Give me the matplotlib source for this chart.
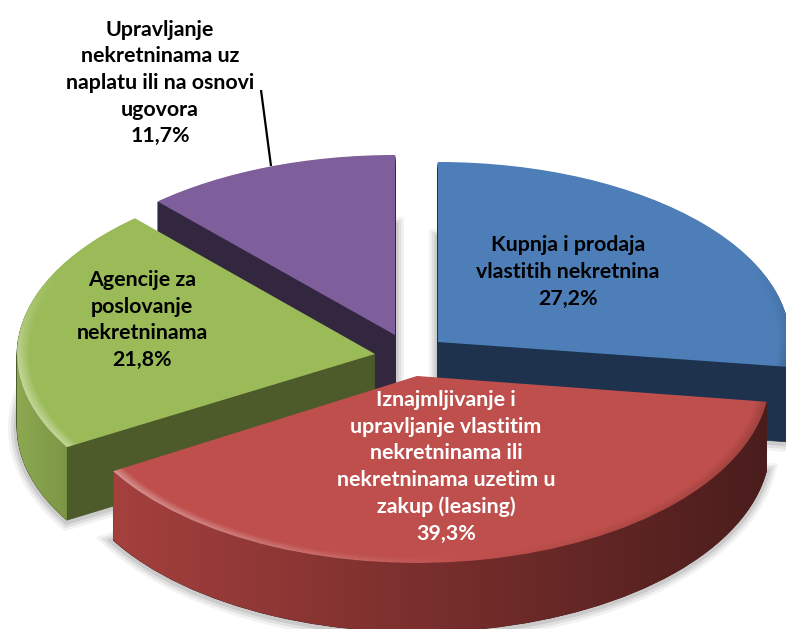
import numpy as np
import matplotlib
matplotlib.use("Agg")
import matplotlib.pyplot as plt
from matplotlib.patches import Wedge
from matplotlib.path import Path
from matplotlib.transforms import Affine2D

categories = ["Kupnja i prodaja\nvlastitih nekretnina",
              "Iznajmljivanje i\nupravljanje vlastitim\nnekretninama ili\nnekretninama uzetim u\nzakup (leasing)",
              "Agencije za\nposlovanje\nnekretninama",
              "Upravljanje\nnekretninama uz\nnaplatu ili na osnovi\nugovora"]
values = [27.2, 39.3, 21.8, 11.7]

top_colors = ["#4d7eb8", "#be4f4c", "#9bbb59", "#7e5f9b"]
face_colors = ["#1e324d", "#4a1d1c", "#4d5a29", "#32273f"]
rim_left = ["#1e324d", "#a5403d", "#8ca850", "#32273f"]
rim_right = ["#1e324d", "#4a1d1c", "#7c9646", "#32273f"]
text_colors = ["black", "white", "black", "black"]

# pixel geometry of each exploded slice: centre x, centre y, radius x, radius y, depth
geom = [(438, 342, 352, 180, 75),
        (417, 376, 353, 187, 69),
        (375, 354, 358, 183, 73),
        (395, 335, 354, 180, 70)]
# label block centres in pixels
label_pos = [(568, 272), (446, 467), (142, 320), (160, 83)]
draw_order = [3, 0, 2, 1]

W, H = 786, 629
fig = plt.figure(figsize=(W / 100, H / 100), dpi=100, facecolor="white")
ax = fig.add_axes([0, 0, 1, 1])
wedges, _ = ax.pie(values, startangle=90, counterclock=False, colors=top_colors)
ax.set_aspect("auto")
ax.set_xlim(0, W)
ax.set_ylim(H, 0)
ax.axis("off")

yy, xx = np.mgrid[0.5:H, 0.5:W]


def hex_rgb(c):
    return np.array(matplotlib.colors.to_rgb(c))


for i in draw_order:
    w = wedges[i]
    t1, t2 = w.theta1, w.theta2
    cx, cy, rx, ry, depth = geom[i]
    base = 10 * (draw_order.index(i) + 1)

    def tf(shift=0):
        return Affine2D().scale(rx, -ry).translate(cx, cy + shift)

    # soft shadow
    for lw, a in ((13, 0.05), (9, 0.07), (5, 0.09)):
        s = Wedge((0, 0), 1, t1, t2, facecolor="none", edgecolor=(0, 0, 0, a), lw=lw,
                  transform=tf(depth + 1) + ax.transData, zorder=base)
        ax.add_patch(s)

    # extruded body
    for d in range(depth, 0, -1):
        b = Wedge((0, 0), 1, t1, t2, facecolor=face_colors[i], edgecolor=face_colors[i], lw=0.5,
                  transform=tf(d) + ax.transData, zorder=base + 1)
        ax.add_patch(b)

    # curved outer rim with a horizontal gradient
    ang = np.radians(np.linspace(t1, t2, 400))
    ang = ang[np.sin(ang) <= 0.001]
    if len(ang) > 1:
        px = cx + rx * np.cos(ang)
        py = cy - ry * np.sin(ang)
        verts = np.r_[np.c_[px, py], np.c_[px, py + depth][::-1], [[px[0], py[0]]]]
        rim_path = Path(verts)
        frac = np.clip((xx - px.min()) / max(px.max() - px.min(), 1), 0, 1)[..., None]
        img = hex_rgb(rim_left[i]) * (1 - frac) + hex_rgb(rim_right[i]) * frac
        im = ax.imshow(img, extent=(0, W, H, 0), aspect="auto", zorder=base + 2, interpolation="bilinear")
        im.set_clip_path(rim_path, ax.transData)

    # top surface
    w.set_transform(tf() + ax.transData)
    w.set_zorder(base + 3)
    w.set_edgecolor("none")

    # bevel on the outer edge of the top surface, only on the lower part of the rim
    rho = np.hypot((xx - cx) / rx, (yy - cy) / ry)
    phi = np.arctan2(-(yy - cy) / ry, (xx - cx) / rx)
    band = np.clip((rho - 0.965) / 0.03, 0, 1) * np.clip((0.45 - np.sin(phi)) / 0.5, 0, 1)
    lit = np.clip(-np.cos(phi) + 0.15, 0, 1) * band
    dark = np.clip(np.cos(phi) - 0.15, 0, 1) * band
    overlay = np.zeros((H, W, 4))
    overlay[..., :3] = (lit > dark)[..., None].astype(float)
    overlay[..., 3] = np.maximum(lit * 0.36, dark * 0.18)
    ov = ax.imshow(overlay, extent=(0, W, H, 0), aspect="auto", zorder=base + 4, interpolation="bilinear")
    ov.set_clip_path(Wedge((0, 0), 1, t1, t2, transform=tf() + ax.transData))

# leader line of the last label
ax.plot([261, 271], [90, 166], color="black", lw=1.6, zorder=60, solid_capstyle="butt")

for i, (cat, v) in enumerate(zip(categories, values)):
    pct = f"{v:.1f}%".replace(".", ",")
    ax.text(label_pos[i][0], label_pos[i][1], f"{cat}\n{pct}", ha="center", va="center",
            multialignment="center", fontsize=15.4, fontweight="bold", family="Lato",
            color=text_colors[i], linespacing=1.41, zorder=70)

ax.set_xlim(0, W)
ax.set_ylim(H, 0)
fig.savefig("out.png", dpi=100, facecolor="white")
